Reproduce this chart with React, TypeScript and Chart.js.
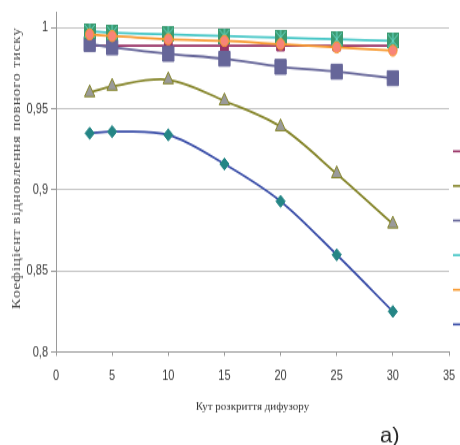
import React, { useEffect, useRef } from 'react';
import { Chart, registerables } from 'chart.js';

Chart.register(...registerables);

// ---- data ----
const angles = [3, 5, 10, 15, 20, 25, 30];
const series1 = [0.989, 0.989, 0.989, 0.989, 0.989, 0.989, 0.989];
const series2 = [0.96, 0.964, 0.968, 0.955, 0.939, 0.91, 0.879];
const series3 = [0.99, 0.988, 0.984, 0.981, 0.976, 0.973, 0.969];
const series4 = [0.998, 0.997, 0.996, 0.995, 0.994, 0.993, 0.992];
const series5 = [0.996, 0.995, 0.993, 0.992, 0.99, 0.988, 0.986];
const series6 = [0.935, 0.936, 0.934, 0.916, 0.893, 0.86, 0.825];
const seriesNames = ['Ряд1', 'Ряд2', 'Ряд3', 'Ряд4', 'Ряд5', 'Ряд6'];
const yTickValues = [0.8, 0.85, 0.9, 0.95, 1];
const xTitle = 'Кут розкриття дифузору';
const yTitle = 'Коефіцієнт відновлення повного тиску';
const panelLabel = 'а)';

// ---- layout (canvas is drawn then stretched vertically like the reference) ----
const W = 460;
const CH = 342;
const SY = 445 / CH;

const lineColors = ['#993366', '#85852a', '#666699', '#45c6c6', '#f7992f', '#3a4ea8'];

function makeStarSquare(): HTMLCanvasElement {
  const c = document.createElement('canvas');
  c.width = 12;
  c.height = 12;
  const g = c.getContext('2d')!;
  g.fillStyle = '#3b9a70';
  g.fillRect(0, 0, 12, 12);
  g.strokeStyle = '#66d8c8';
  g.lineWidth = 1;
  g.beginPath();
  g.moveTo(1, 1); g.lineTo(11, 11);
  g.moveTo(11, 1); g.lineTo(1, 11);
  g.moveTo(6, 0); g.lineTo(6, 12);
  g.stroke();
  return c;
}

const tickFont = { family: '"Liberation Sans Narrow", "Arial Narrow", "Liberation Sans", sans-serif', size: 11 };

const decorPlugin = {
  id: 'decor',
  afterDraw(chart: any) {
    const ctx: CanvasRenderingContext2D = chart.ctx;
    // Y title (rotated, spaced)
    ctx.save();
    ctx.font = '12px "Liberation Serif", "Times New Roman", serif';
    ctx.fillStyle = '#4a4a4a';
    const chars = Array.from(yTitle);
    const widths = chars.map((ch) => ctx.measureText(ch).width);
    const natural = widths.reduce((a, b) => a + b, 0);
    const target = 216;
    const gap = (target - natural) / (chars.length - 1);
    ctx.translate(17, 129.5);
    ctx.rotate(-Math.PI / 2);
    ctx.textBaseline = 'middle';
    ctx.textAlign = 'left';
    let pos = -target / 2;
    chars.forEach((ch, i) => {
      ctx.fillText(ch, pos, 0);
      pos += widths[i] + gap;
    });
    ctx.restore();

    // X title and panel label, drawn un-stretched
    ctx.save();
    ctx.scale(1, 1 / SY);
    ctx.font = '11px "Liberation Serif", "Times New Roman", serif';
    ctx.fillStyle = '#333333';
    ctx.textAlign = 'center';
    ctx.textBaseline = 'alphabetic';
    const area = chart.chartArea;
    ctx.fillText(xTitle, (area.left + area.right) / 2, 410);
    ctx.font = '22px "Liberation Sans", Arial, sans-serif';
    ctx.fillStyle = '#262626';
    ctx.textAlign = 'left';
    ctx.fillText(panelLabel, 380, 442);
    ctx.restore();

    // Legend (clipped at right edge like the reference)
    ctx.save();
    chart.data.datasets.forEach((ds: any, i: number) => {
      const y = 116.3 + i * 26.6;
      ctx.strokeStyle = ds.borderColor;
      ctx.lineWidth = 1.6;
      ctx.beginPath();
      ctx.moveTo(453, y);
      ctx.lineTo(480, y);
      ctx.stroke();
      ctx.fillStyle = '#333';
      ctx.font = '11px "Liberation Sans", sans-serif';
      ctx.textBaseline = 'middle';
      ctx.fillText(ds.label, 486, y);
    });
    ctx.restore();
  },
};

export default function App() {
  const ref = useRef<HTMLCanvasElement>(null);
  useEffect(() => {
    const star = makeStarSquare();
    const pts = (vals: number[]) => angles.map((a, i) => ({ x: a, y: vals[i] }));
    const base = { showLine: true, tension: 0.33, borderWidth: 1.8, fill: false };
    const chart = new Chart(ref.current!, {
      type: 'scatter',
      data: {
        datasets: [
          { ...base, label: seriesNames[0], data: pts(series1), borderColor: lineColors[0], pointStyle: 'rect', pointRadius: 5.5, pointBackgroundColor: '#993366', pointBorderColor: '#993366', pointBorderWidth: 1, order: 6 },
          { ...base, label: seriesNames[1], data: pts(series2), borderColor: lineColors[1], pointStyle: 'triangle', pointRadius: 6, pointBackgroundColor: '#9a9a9a', pointBorderColor: '#85852a', pointBorderWidth: 1, order: 5 },
          { ...base, label: seriesNames[2], data: pts(series3), borderColor: lineColors[2], pointStyle: 'rect', pointRadius: 8, pointBackgroundColor: '#666699', pointBorderColor: '#666699', pointBorderWidth: 1, order: 4 },
          { ...base, label: seriesNames[3], data: pts(series4), borderColor: lineColors[3], pointStyle: star, pointRadius: 6, order: 3 },
          { ...base, label: seriesNames[4], data: pts(series5), borderColor: lineColors[4], pointStyle: 'circle', pointRadius: 4.2, pointBackgroundColor: '#f88478', pointBorderColor: '#f7992f', pointBorderWidth: 1, order: 2 },
          { ...base, label: seriesNames[5], data: pts(series6), borderColor: lineColors[5], pointStyle: 'rectRot', pointRadius: 4.6, pointBackgroundColor: '#248585', pointBorderColor: '#248585', pointBorderWidth: 1, order: 1 },
        ],
      },
      options: {
        responsive: false,
        animation: false,
        devicePixelRatio: 1,
        layout: { padding: { top: 3, right: 11, left: 0, bottom: 0 } },
        plugins: { legend: { display: false }, tooltip: { enabled: false } },
        scales: {
          x: {
            type: 'linear',
            min: 0,
            max: 35,
            ticks: { stepSize: 5, font: tickFont, color: '#3a3a3a', padding: 9 },
            grid: { drawOnChartArea: false, drawTicks: true, tickLength: 3, tickColor: '#9a9a9a' },
            border: { color: '#9a9a9a', width: 1 },
            afterFit: (s: any) => { s.height = CH - 270.5; s.paddingLeft = 0; s.paddingRight = 0; },
          },
          y: {
            type: 'linear',
            min: 0.8,
            max: 1.01,
            afterBuildTicks: (s: any) => { s.ticks = yTickValues.map((v) => ({ value: v })); },
            ticks: {
              font: tickFont,
              color: '#3a3a3a',
              padding: 3,
              callback: (v: any) => String(Number(v)).replace('.', ','),
            },
            grid: { color: '#c4c4c4', lineWidth: 1, tickLength: 5, tickColor: '#9a9a9a' },
            border: { color: '#9a9a9a', width: 1 },
            afterFit: (s: any) => { s.width = 56; s.paddingTop = 0; s.paddingBottom = 0; },
          },
        },
      } as any,
      plugins: [decorPlugin],
    });
    return () => chart.destroy();
  }, []);

  return (
    <div style={{ position: 'absolute', left: 0, top: 0, width: W, height: 445, overflow: 'hidden', background: '#ffffff' }}>
      <div style={{ width: W, height: CH, transform: `scaleY(${SY})`, transformOrigin: '0 0' }}>
        <canvas ref={ref} width={W} height={CH} style={{ display: 'block' }} />
      </div>
    </div>
  );
}
